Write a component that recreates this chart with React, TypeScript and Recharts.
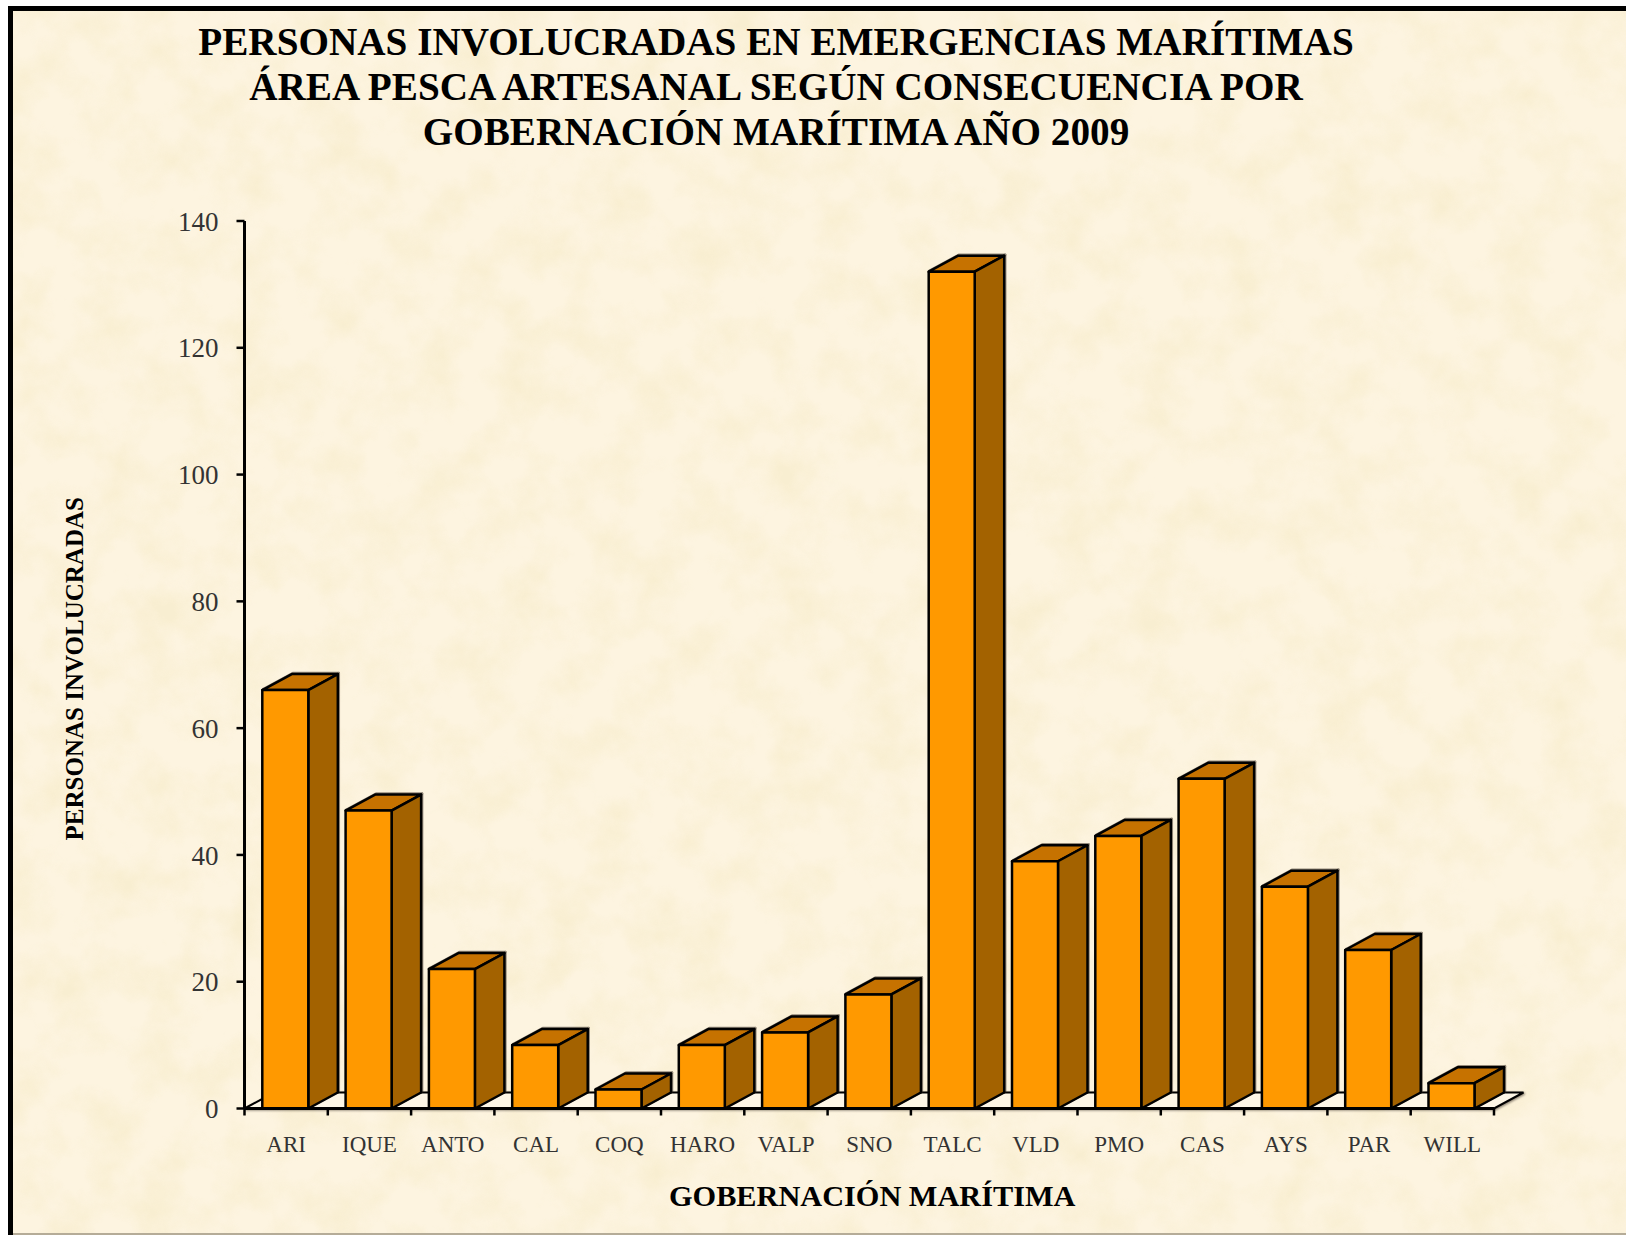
/**
 * PersonasChart — personas involucradas por gobernación marítima, 2009.
 * Columns drawn as pseudo-3D boxes through a custom Bar shape.
 */
import { BarChart, Bar, XAxis, YAxis, ReferenceLine } from "recharts";

const titleLines = [
  "PERSONAS INVOLUCRADAS EN EMERGENCIAS MARÍTIMAS",
  "ÁREA PESCA ARTESANAL SEGÚN CONSECUENCIA POR",
  "GOBERNACIÓN MARÍTIMA AÑO 2009",
];
const categories = ["ARI", "IQUE", "ANTO", "CAL", "COQ", "HARO", "VALP", "SNO", "TALC", "VLD", "PMO", "CAS", "AYS", "PAR", "WILL"];
const personas = [66, 47, 22, 10, 3, 10, 12, 18, 132, 39, 43, 52, 35, 25, 4];
const yTicks = [0, 20, 40, 60, 80, 100, 120, 140];

const data = categories.map((name, i) => ({ name, personas: personas[i] }));

const WIDTH = 1626;
const HEIGHT = 1235;
const PLOT_LEFT = 244.5;
const PLOT_RIGHT = 1494;
const PLOT_TOP = 221;
const PLOT_BOTTOM = 1108.5;
const BAND = (PLOT_RIGHT - PLOT_LEFT) / categories.length;
const DEPTH_X = 29.5;
const DEPTH_Y = 16;
const FONT = '"Liberation Serif", serif';

// ─── 3D column ────────────────────────────────────────────────────────────────

function Box3D({ x, y, width, height }: { x?: number; y?: number; width?: number; height?: number }) {
  const l = (x as number) - 1.2;
  const t = y as number;
  const r = l + (width as number);
  const b = t + (height as number);
  const common = { stroke: "#000", strokeWidth: 2.5, strokeLinejoin: "round" as const };
  return (
    <g style={{ filter: "drop-shadow(1px -1px 0.5px rgba(60,50,40,0.55))" }}>
      <polygon points={`${l},${t} ${l + DEPTH_X},${t - DEPTH_Y} ${r + DEPTH_X},${t - DEPTH_Y} ${r},${t}`} fill="#C67200" {...common} />
      <polygon points={`${r},${t} ${r + DEPTH_X},${t - DEPTH_Y} ${r + DEPTH_X},${b - DEPTH_Y} ${r},${b}`} fill="#A36200" {...common} />
      <rect x={l} y={t} width={width} height={height} fill="#FF9900" {...common} />
    </g>
  );
}

// ─── Floor under the columns ──────────────────────────────────────────────────

function Floor({ x1, y1, x2 }: { x1?: number; y1?: number; x2?: number }) {
  const l = x1 as number;
  const r = x2 as number;
  const y = y1 as number;
  return (
    <polygon
      points={`${l},${y} ${l + DEPTH_X},${y - DEPTH_Y} ${r + DEPTH_X},${y - DEPTH_Y} ${r},${y}`}
      fill="#FDF6E6"
      stroke="#000"
      strokeWidth={2}
      style={{ filter: "drop-shadow(1px 1px 1px rgba(60,50,40,0.6))" }}
    />
  );
}

// ─── X tick: label centred, tick mark on the category boundary ────────────────

function XTick({ x, y, payload, index }: { x?: number; y?: number; payload?: { value: string }; index?: number }) {
  const cx = x as number;
  const cy = y as number;
  const last = index === categories.length - 1;
  return (
    <g>
      <line x1={cx - BAND / 2} x2={cx - BAND / 2} y1={cy} y2={cy + 7} stroke="#000" strokeWidth={2.5} />
      {last && <line x1={cx + BAND / 2} x2={cx + BAND / 2} y1={cy} y2={cy + 7} stroke="#000" strokeWidth={2.5} />}
      <text x={cx} y={cy + 43} textAnchor="middle" fontFamily={FONT} fontSize={23} fill="#333">
        {payload?.value}
      </text>
    </g>
  );
}

// ─── Paper background ─────────────────────────────────────────────────────────

function Paper() {
  return (
    <svg width={WIDTH} height={HEIGHT} style={{ position: "absolute", left: 0, top: 0 }}>
      <defs>
        <filter id="paper" x="0" y="0" width="100%" height="100%">
          <feTurbulence type="fractalNoise" baseFrequency="0.022" numOctaves={4} seed={7} />
          <feColorMatrix
            type="matrix"
            values="0 0 0 0 0.93  0 0 0 0 0.84  0 0 0 0 0.6  2.2 0 0 0 -0.85"
          />
        </filter>
      </defs>
      <rect x={8} y={6} width={WIDTH} height={HEIGHT} fill="#000" />
      <rect x={13} y={11} width={WIDTH} height={HEIGHT} fill="#FDF4E0" />
      <rect x={13} y={11} width={WIDTH} height={HEIGHT} filter="url(#paper)" opacity={0.7} />
      <rect x={13} y={1233} width={WIDTH} height={2} fill="#B5AC98" />
    </svg>
  );
}

// ─── Component ────────────────────────────────────────────────────────────────

export default function App() {
  return (
    <div style={{ position: "absolute", left: 0, top: 0, width: WIDTH, height: HEIGHT, overflow: "hidden", background: "#fff" }}>
      <Paper />

      {/* Title */}
      <div
        style={{
          position: "absolute",
          left: 0,
          top: 19,
          width: 1552,
          textAlign: "center",
          fontFamily: FONT,
          fontWeight: 700,
          fontSize: 39.2,
          lineHeight: "45px",
          color: "#000",
          whiteSpace: "nowrap",
        }}
      >
        {titleLines.map((line) => (
          <div key={line}>{line}</div>
        ))}
      </div>

      {/* Chart */}
      <div style={{ position: "absolute", left: 0, top: 0 }}>
        <BarChart
          width={WIDTH}
          height={HEIGHT}
          data={data}
          margin={{ top: PLOT_TOP, right: WIDTH - PLOT_RIGHT, bottom: 0, left: 0 }}
        >
          <ReferenceLine y={0} shape={Floor} zIndex={-10} />
          <XAxis
            dataKey="name"
            interval={0}
            height={HEIGHT - PLOT_BOTTOM}
            tick={XTick}
            tickLine={false}
            tickSize={0}
            tickMargin={0}
            axisLine={{ stroke: "#000", strokeWidth: 3 }}
            label={{
              value: "GOBERNACIÓN MARÍTIMA",
              position: "insideBottom",
              offset: 29,
              dx: 3,
              fontFamily: FONT,
              fontWeight: 700,
              fontSize: 30.3,
              fill: "#000",
            }}
          />
          <YAxis
            domain={[0, 140]}
            ticks={yTicks}
            width={PLOT_LEFT}
            tickSize={8}
            tickMargin={18}
            tick={{ fontFamily: FONT, fontSize: 27, fill: "#333" }}
            tickLine={{ stroke: "#000", strokeWidth: 2.5 }}
            axisLine={{ stroke: "#000", strokeWidth: 3 }}
            label={{
              value: "PERSONAS INVOLUCRADAS",
              angle: -90,
              position: "insideLeft",
              offset: 74,
              dy: 4,
              textAnchor: "middle",
              fontFamily: FONT,
              fontWeight: 700,
              fontSize: 25,
              fill: "#000",
            }}
          />
          <Bar dataKey="personas" barSize={46} shape={Box3D} isAnimationActive={false} />
        </BarChart>
      </div>
    </div>
  );
}
